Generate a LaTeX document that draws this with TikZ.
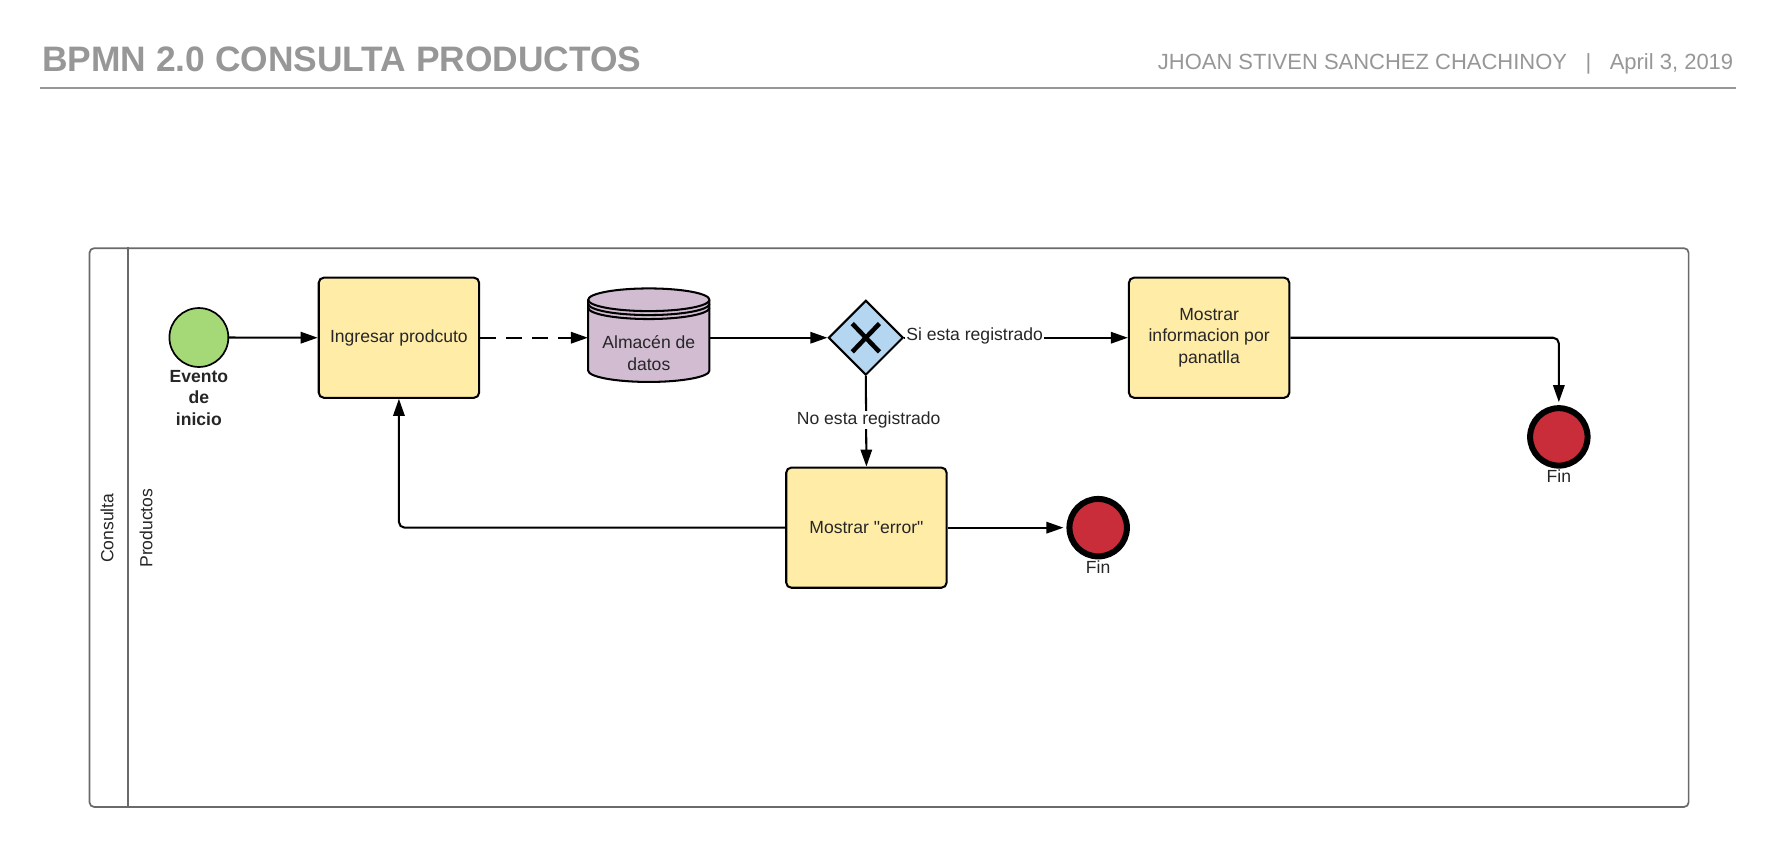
\documentclass[tikz,border=0pt]{standalone}
\usepackage{fontspec}
\setmainfont{Liberation Sans}[Ligatures=TeXOff]
\usetikzlibrary{arrows.meta,shapes.geometric,calc}
\definecolor{hdrgray}{HTML}{979797}
\definecolor{poolgray}{HTML}{6A6A6A}
\definecolor{txtdark}{HTML}{262626}
\definecolor{startgreen}{HTML}{A5D977}
\definecolor{taskyellow}{HTML}{FFECA7}
\definecolor{dspurple}{HTML}{D1BCD2}
\definecolor{gwblue}{HTML}{B4D6F0}
\definecolor{endred}{HTML}{C92D39}
\begin{document}
\begin{tikzpicture}[x=1pt,y=-1pt,
  txtbase/.style={font=\fontsize{15.5}{19}\selectfont, text=txtdark},
  titlestyle/.style={anchor=base west, inner sep=0pt, text=hdrgray, font=\bfseries\fontsize{31.2}{36}\selectfont},
  authorstyle/.style={anchor=base west, inner sep=0pt, text=hdrgray, font=\fontsize{19.4}{23}\selectfont},
  hdrline/.style={draw=hdrgray, line width=2pt},
  poolbox/.style={draw=poolgray, line width=1.5pt, rounded corners=4pt, minimum width=1411pt, minimum height=493pt, inner sep=0pt},
  poolline/.style={draw=poolgray, line width=1.5pt},
  task/.style={txtbase, draw=black, line width=1.8pt, fill=taskyellow, rounded corners=4.5pt, minimum width=141.5pt, minimum height=106pt, align=center, inner sep=2pt},
  startev/.style={circle, draw=black, line width=1.5pt, fill=startgreen, minimum size=52pt, inner sep=0pt},
  endev/.style={circle, draw=black, line width=5.3pt, fill=endred, minimum size=50.7pt, inner sep=0pt},
  gateway/.style={diamond, draw=black, line width=1.8pt, fill=gwblue, minimum width=66pt, minimum height=66pt, inner sep=0pt},
  dsshape/.style={draw=black, line width=1.8pt, fill=dspurple},
  dsline/.style={draw=black, line width=1.8pt},
  flowarrow/.style={draw=black, line width=1.8pt, -{Triangle[length=15pt,width=10pt]}},
  dashflow/.style={flowarrow, dash pattern=on 14pt off 9pt},
  edgelbl/.style={txtbase, fill=white, inner sep=1pt},
  finlbl/.style={txtbase, inner sep=0pt}
]
\fill[white] (0,0) rectangle (1568,748);
\useasboundingbox (0,0) rectangle (1568,748);

% header
\node[titlestyle] (title) at (37,63) {BPMN 2.0 CONSULTA PRODUCTOS};
\node[authorstyle] (author) at (1021.5,61) {JHOAN STIVEN SANCHEZ CHACHINOY\hspace{16.3pt}|\hspace{16.3pt}April 3, 2019};
\coordinate (hl) at (35,77.5);
\coordinate (hr) at (1532,77.5);
\draw[hdrline] (hl) -- (hr);

% pool and lane
\node[poolbox] (pool) at (784.5,465.5) {};
\draw[poolline] ($(pool.north west)+(35,0)$) -- ($(pool.south west)+(35,0)$);
\node[txtbase, rotate=90] (cons) at (94.5,466) {Consulta};
\node[txtbase, rotate=90] (prod) at (129,466) {Productos};

% start event
\node[startev] (start) at (175.5,297.8) {};
\node[txtbase, align=center, font=\bfseries\fontsize{15.5}{19}\selectfont] (evlbl) at (175.5,351) {Evento\\de\\inicio};

% tasks
\node[task] (t1) at (352,298) {Ingresar prodcuto};
\node[task] (t3) at (1066.9,298) {Mostrar\\informacion por\\panatlla};
\node[task] (t2) at (764.5,465.6) {Mostrar "error"};

% data store (cx=572.5, rx=53.5, ry=10)
\filldraw[dsshape] (519,264.5) -- (519,327)
  .. controls (519,332.52) and (542.95,337) .. (572.5,337)
  .. controls (602.05,337) and (626,332.52) .. (626,327)
  -- (626,264.5)
  .. controls (626,258.98) and (602.05,254.5) .. (572.5,254.5)
  .. controls (542.95,254.5) and (519,258.98) .. (519,264.5) -- cycle;
\draw[dsline] (519,264.5) .. controls (519,270.02) and (542.95,274.5) .. (572.5,274.5) .. controls (602.05,274.5) and (626,270.02) .. (626,264.5);
\draw[dsline] (519,268) .. controls (519,273.52) and (542.95,278) .. (572.5,278) .. controls (602.05,278) and (626,273.52) .. (626,268);
\draw[dsline] (519,271.5) .. controls (519,277.02) and (542.95,281.5) .. (572.5,281.5) .. controls (602.05,281.5) and (626,277.02) .. (626,271.5);
\node[txtbase, align=center, minimum width=107pt, inner sep=0pt] (ds) at (572.5,311.5) {Almacén de\\datos};

% gateway
\node[gateway] (gw) at (764,298) {};
\draw[line width=4pt] ($(gw.center)+(-12,-12.5)$) -- ($(gw.center)+(12,12.5)$);
\draw[line width=4pt] ($(gw.center)+(-12,12.5)$) -- ($(gw.center)+(12,-12.5)$);

% end events
\node[endev] (e1) at (969,465.6) {};
\node[finlbl] (fin1) at ($(e1.center)+(0,34.4)$) {Fin};
\node[endev] (e2) at (1375.5,385.5) {};
\node[finlbl] (fin2) at ($(e2.center)+(0,35)$) {Fin};

% flows
\draw[flowarrow] (start.east) -- (t1.west);
\draw[dashflow] (t1.east) -- (ds.west |- t1.east);
\draw[flowarrow] (ds.east |- t1.east) -- (gw.west);
\draw[flowarrow] (gw.east) -- (t3.west);
\node[edgelbl, anchor=west] (silbl) at (798.5,296.5) {Si esta registrado};
\draw[flowarrow, rounded corners=5pt, shorten >=2.6pt] (t3.east) -- (e2.north |- t3.east) -- (e2.north);
\draw[flowarrow] (gw.south) -- (t2.north);
\node[edgelbl] (nolbl) at (766.5,370.5) {No esta registrado};
\draw[flowarrow, shorten >=2.6pt] (t2.east) -- (e1.west);
\draw[flowarrow, rounded corners=5pt] (t2.west) -- (t1.south |- t2.west) -- (t1.south);
\end{tikzpicture}
\end{document}
